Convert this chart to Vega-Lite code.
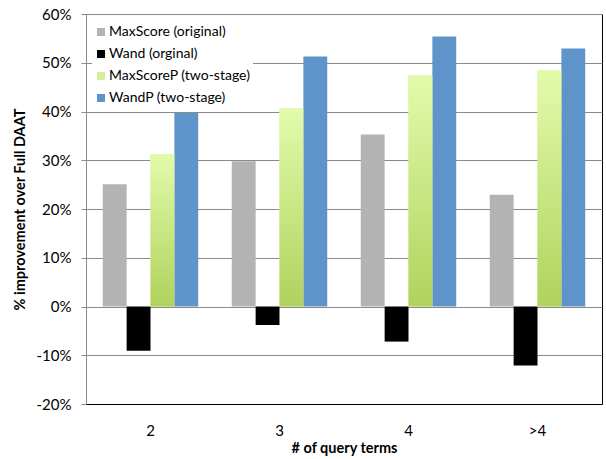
{
  "$schema": "https://vega.github.io/schema/vega-lite/v6.json",
  "width": 516,
  "height": 390,
  "autosize": {"type": "none"},
  "padding": {"left": 86, "top": 14, "right": 4, "bottom": 55},
  "background": "white",
  "config": {"font": "Lato", "view": {"stroke": "#000000", "strokeWidth": 1}},
  "data": {
    "values": [
      {"terms": "2", "method": "MaxScore (original)", "pct": 25.1},
      {"terms": "2", "method": "Wand (orginal)", "pct": -9.1},
      {"terms": "2", "method": "MaxScoreP (two-stage)", "pct": 31.3},
      {"terms": "2", "method": "WandP (two-stage)", "pct": 39.7},
      {"terms": "3", "method": "MaxScore (original)", "pct": 29.8},
      {"terms": "3", "method": "Wand (orginal)", "pct": -3.8},
      {"terms": "3", "method": "MaxScoreP (two-stage)", "pct": 40.6},
      {"terms": "3", "method": "WandP (two-stage)", "pct": 51.3},
      {"terms": "4", "method": "MaxScore (original)", "pct": 35.3},
      {"terms": "4", "method": "Wand (orginal)", "pct": -7.2},
      {"terms": "4", "method": "MaxScoreP (two-stage)", "pct": 47.4},
      {"terms": "4", "method": "WandP (two-stage)", "pct": 55.4},
      {"terms": ">4", "method": "MaxScore (original)", "pct": 22.9},
      {"terms": ">4", "method": "Wand (orginal)", "pct": -12.1},
      {"terms": ">4", "method": "MaxScoreP (two-stage)", "pct": 48.4},
      {"terms": ">4", "method": "WandP (two-stage)", "pct": 52.9}
    ]
  },
  "encoding": {
    "x": {
      "field": "terms",
      "type": "nominal",
      "sort": ["2", "3", "4", ">4"],
      "scale": {"paddingInner": 0.26, "paddingOuter": 0.13},
      "axis": {
        "title": "# of query terms",
        "titleFontSize": 14.5,
        "titleFontWeight": "bold",
        "titleColor": "#000000",
        "titlePadding": 3,
        "labelAngle": 0,
        "labelFontSize": 15,
        "labelColor": "#000000",
        "labelPadding": 19,
        "ticks": false,
        "domainColor": "#000000"
      }
    },
    "xOffset": {
      "field": "method",
      "type": "nominal",
      "scale": {
        "domain": ["MaxScore (original)", "Wand (orginal)", "MaxScoreP (two-stage)", "WandP (two-stage)"],
        "paddingInner": 0,
        "paddingOuter": 0
      }
    },
    "y": {
      "field": "pct",
      "type": "quantitative",
      "scale": {"domain": [-20, 60], "nice": false},
      "axis": {
        "title": "% improvement over Full DAAT",
        "titleFontSize": 14.5,
        "titleFontWeight": "bold",
        "titleColor": "#000000",
        "titlePadding": 9,
        "values": [-20, -10, 0, 10, 20, 30, 40, 50, 60],
        "labelExpr": "datum.value + '%'",
        "labelFontSize": 15,
        "labelColor": "#000000",
        "labelPadding": 10,
        "tickSize": 5,
        "tickColor": "#8a8a8a",
        "domainColor": "#8a8a8a",
        "grid": true,
        "gridColor": "#8a8a8a",
        "gridOpacity": 1
      }
    }
  },
  "layer": [
    {
      "mark": {"type": "bar"},
      "encoding": {
        "color": {
          "field": "method",
          "type": "nominal",
          "scale": {
            "domain": ["MaxScore (original)", "Wand (orginal)", "MaxScoreP (two-stage)", "WandP (two-stage)"],
            "range": ["#b3b3b3", "#000000", "#d4ee9c", "#5e94c9"]
          },
          "legend": {
            "orient": "none",
            "legendX": 6,
            "legendY": 9,
            "title": null,
            "fillColor": "white",
            "padding": 2,
            "symbolType": "square",
            "symbolSize": 64,
            "symbolStrokeWidth": 0,
            "labelFontSize": 14,
            "labelColor": "#000000",
            "labelOffset": 1,
            "rowPadding": 8
          }
        }
      }
    },
    {
      "transform": [{"filter": "datum.method === 'MaxScoreP (two-stage)'"}],
      "mark": {
        "type": "bar",
        "color": {
          "gradient": "linear",
          "x1": 0, "y1": 0, "x2": 0, "y2": 1,
          "stops": [
            {"offset": 0, "color": "#e2fbab"},
            {"offset": 1, "color": "#b0d25d"}
          ]
        }
      }
    }
  ]
}
